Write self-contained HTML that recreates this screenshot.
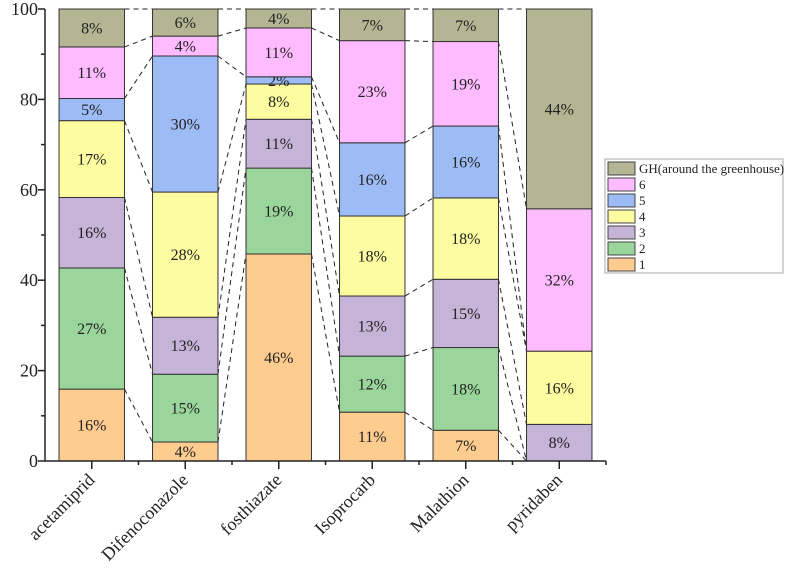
<!DOCTYPE html>
<html><head><meta charset="utf-8"><style>
body{margin:0;background:#fff}
svg{display:block;font-family:"Liberation Serif",serif}
</style></head><body>
<svg id="chart" width="786" height="580" viewBox="0 0 786 580"></svg>
<script>
const categories=["acetamiprid","Difenoconazole","fosthiazate","Isoprocarb","Malathion","pyridaben"];
const seriesNames=["1","2","3","4","5","6","GH(around the greenhouse)"];
const s1=[15.9,4.2,45.8,10.8,6.8,0];
const s2=[26.8,15.0,19.0,12.4,18.3,0];
const s3=[15.6,12.6,10.8,13.3,15.1,8.1];
const s4=[17.0,27.7,7.8,17.7,18.0,16.2];
const s5=[4.9,30.1,1.6,16.2,15.9,0];
const s6=[11.4,4.4,10.8,22.6,18.7,31.5];
const sGH=[8.4,6.0,4.2,7.0,7.2,44.2];
const yTicks=[0,20,40,60,80,100];
const series=[s1,s2,s3,s4,s5,s6,sGH];
const colors=["#ffcc8f","#9ad69b","#c6b3d8","#fdfca0","#9dbcf5","#ffbbff","#b5b593"];
const NS="http://www.w3.org/2000/svg";
const svg=document.getElementById('chart');
const X0=45,X1=606,Y0=461,Y100=9;
const band=(X1-X0)/categories.length, bw=band*0.7;
const y=v=>Y0-(v/100)*(Y0-Y100);
const xc=i=>X0+band*(i+0.5);
function el(t,a,p){const e=document.createElementNS(NS,t);for(const k in a)e.setAttribute(k,a[k]);(p||svg).appendChild(e);return e;}
const cum=categories.map((c,i)=>{let a=[0];let s=0;series.forEach(ser=>{s+=ser[i];a.push(s);});return a;});
for(let i=0;i<categories.length-1;i++){
  for(let k=1;k<=series.length;k++){
    const l=el('line',{x1:xc(i)+bw/2,y1:y(cum[i][k]),x2:xc(i+1)-bw/2,y2:y(cum[i+1][k]),stroke:'#222','stroke-width':1,'stroke-dasharray':'5,4'});
    
    
  }
}
categories.forEach((c,i)=>{
  series.forEach((ser,k)=>{
    const v=ser[i]; if(v<=0)return;
    const top=y(cum[i][k+1]),bot=y(cum[i][k]);
    const r=el('rect',{x:xc(i)-bw/2,y:top,width:bw,height:bot-top,fill:colors[k],stroke:'#333','stroke-width':1});
    
    
    const t=el('text',{x:xc(i),y:(top+bot)/2+5.5,'text-anchor':'middle','font-size':16,fill:'#222'});
    t.textContent=Math.round(v)+'%';
    
    
  });
});
const ax=el('g',{stroke:'#222','stroke-width':1.5});


el('line',{x1:X0,y1:Y100,x2:X0,y2:Y0},ax);
el('line',{x1:X0,y1:Y0,x2:X1,y2:Y0},ax);
yTicks.forEach(v=>{
  el('line',{x1:X0-7,y1:y(v),x2:X0,y2:y(v)},ax);
  const t=el('text',{x:X0-7,y:y(v)+6,'text-anchor':'end','font-size':18,fill:'#222'});
  t.textContent=v;
  
  
});
for(let i=0;i<yTicks.length-1;i++){const m=(yTicks[i]+yTicks[i+1])/2;el('line',{x1:X0-4,y1:y(m),x2:X0,y2:y(m)},ax);}
categories.forEach((c,i)=>{
  el('line',{x1:xc(i),y1:Y0,x2:xc(i),y2:Y0+8},ax);
  el('line',{x1:X0+band*(i+1),y1:Y0,x2:X0+band*(i+1),y2:Y0+4},ax);
  const tx=xc(i)+4,ty=Y0+20;
  const t=el('text',{x:tx,y:ty,'text-anchor':'end','font-size':18,fill:'#222',transform:`rotate(-45 ${tx} ${ty})`});
  t.textContent=c;
  
  
});
const lg=el('g',{});


el('rect',{x:605,y:159,width:178,height:114,fill:'#fff',stroke:'#aaa','stroke-width':1},lg);
for(let k=series.length-1;k>=0;k--){
  const row=series.length-1-k, yy=162+row*16;
  const sw=el('rect',{x:608,y:yy,width:27,height:13,fill:colors[k],stroke:'#444','stroke-width':1},lg);
  
  
  const t=el('text',{x:639,y:yy+11,'font-size':13,fill:'#222'},lg);
  t.textContent=seriesNames[k];
  
  
}
</script>
</body></html>
